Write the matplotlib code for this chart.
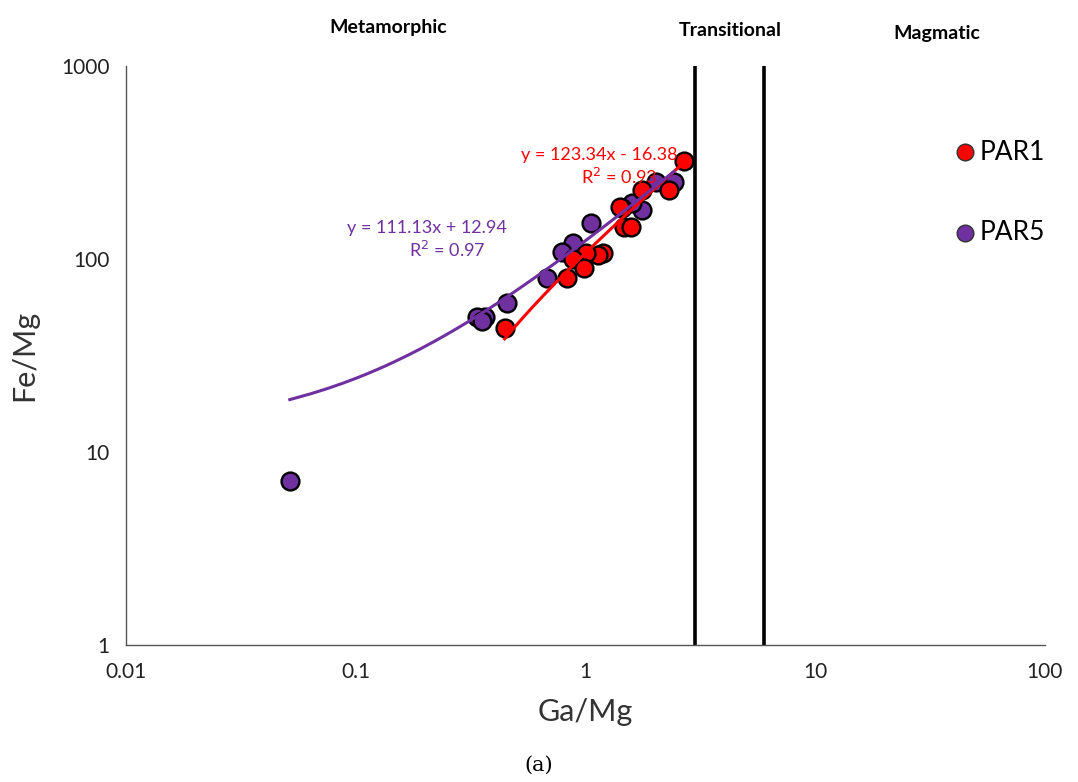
#!/usr/bin/env python3
"""Fe/Mg vs Ga/Mg discrimination plot, PAR1 and PAR5"""

import numpy as np
import matplotlib
matplotlib.use("Agg")
import matplotlib.pyplot as plt
from matplotlib.ticker import FixedLocator, FixedFormatter, NullLocator

plt.rcParams['font.family'] = ['Lato', 'DejaVu Sans']

# data
par1_ga = [2.69, 2.32, 1.77, 1.41, 1.48, 1.58, 1.19, 1.13, 1.01, 0.88, 0.99, 0.83, 0.445]
par1_fe = [320, 228, 228, 186, 146, 146, 107, 105, 107, 100, 90, 80, 44]
par5_ga = [2.44, 2.04, 1.77, 1.60, 1.45, 1.06, 0.88, 0.79, 0.68, 0.454, 0.364, 0.337, 0.356, 0.0516]
par5_fe = [251, 251, 179, 195, 184, 154, 121, 109, 80, 59, 50, 50, 47.7, 7.1]
boundaries = [3, 6]
fit1 = (123.34, -16.38)
fit5 = (111.13, 12.94)

red = "#FF0000"
purple = "#7030A0"

fig = plt.figure(figsize=(10.78, 7.82), dpi=100)
ax = fig.add_axes([0.117, 0.175, 0.852, 0.741])

ax.scatter(par5_ga, par5_fe, s=165, c=purple, edgecolors="black", linewidths=1.7, zorder=3)
ax.scatter(par1_ga, par1_fe, s=165, c=red, edgecolors="black", linewidths=1.7, zorder=3)

# linear trendlines drawn on log axes
x1 = np.linspace(min(par1_ga), max(par1_ga), 200)
ax.plot(x1, fit1[0] * x1 + fit1[1], color=red, lw=2.2, zorder=4)
x5 = np.linspace(min(par5_ga), max(par5_ga), 200)
ax.plot(x5, fit5[0] * x5 + fit5[1], color=purple, lw=2.2, zorder=4)

for b in boundaries:
    ax.axvline(b, color="black", lw=2.6, zorder=2)

ax.set_xscale("log")
ax.set_yscale("log")
ax.set_xlim(0.01, 100)
ax.set_ylim(1, 1000)
ax.xaxis.set_major_locator(FixedLocator([0.01, 0.1, 1, 10, 100]))
ax.xaxis.set_major_formatter(FixedFormatter(["0.01", "0.1", "1", "10", "100"]))
ax.yaxis.set_major_locator(FixedLocator([1, 10, 100, 1000]))
ax.yaxis.set_major_formatter(FixedFormatter(["1", "10", "100", "1000"]))
ax.xaxis.set_minor_locator(NullLocator())
ax.yaxis.set_minor_locator(NullLocator())
ax.tick_params(length=0, labelsize=15, pad=12, colors="#222222")
for s in ["top", "right"]:
    ax.spines[s].set_visible(False)
for s in ["left", "bottom"]:
    ax.spines[s].set_color("#555555")
    ax.spines[s].set_linewidth(1.0)

ax.set_xlabel("Ga/Mg", fontsize=22, color="#333333", labelpad=12)
ax.set_ylabel("Fe/Mg", fontsize=22, color="#333333", labelpad=16)

ax.text(1.15, 346, "y = 123.34x - 16.38", color=red, fontsize=13, ha="center", va="center")
ax.text(1.41, 266, "R$^2$ = 0.93", color=red, fontsize=13, ha="center", va="center")
ax.text(0.204, 145, "y = 111.13x + 12.94", color=purple, fontsize=13, ha="center", va="center")
ax.text(0.251, 111, "R$^2$ = 0.97", color=purple, fontsize=13, ha="center", va="center")

fig.text(388 / 1078, 1 - 27 / 782, "Metamorphic", fontsize=14, fontweight="bold", ha="center", va="center")
fig.text(730 / 1078, 1 - 31 / 782, "Transitional", fontsize=14, fontweight="bold", ha="center", va="center")
fig.text(937 / 1078, 1 - 33 / 782, "Magmatic", fontsize=14, fontweight="bold", ha="center", va="center")

# legend drawn by hand to match the layout
for yy, lab, col in [(152, "PAR1", red), (233, "PAR5", purple)]:
    fig.lines.append(plt.Line2D([965 / 1078], [1 - yy / 782], marker="o", markersize=12,
                                markerfacecolor=col, markeredgecolor="#333333", markeredgewidth=1,
                                transform=fig.transFigure))
    fig.text(980 / 1078, 1 - yy / 782, lab, fontsize=19, ha="left", va="center")

fig.text(0.5, 1 - 765 / 782, "(a)", fontsize=15, family="serif", ha="center", va="center")

plt.savefig("out.png", dpi=100)
